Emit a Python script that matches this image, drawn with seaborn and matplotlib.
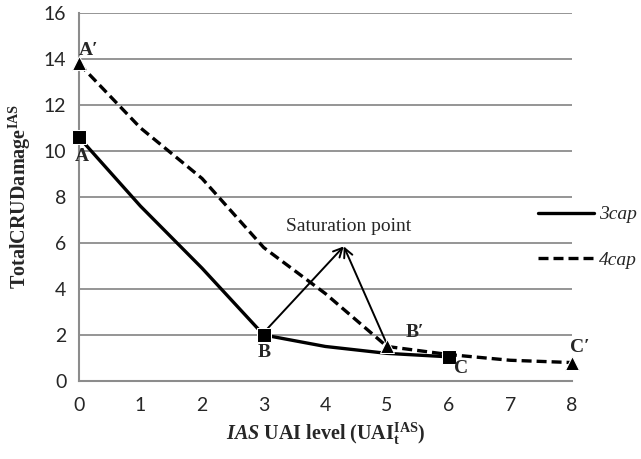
import matplotlib
matplotlib.use("Agg")
import matplotlib.pyplot as plt
import pandas as pd
import seaborn as sns
from matplotlib.lines import Line2D

# values
x_3cap = [0, 1, 2, 3, 4, 5, 6]
y_3cap = [10.6, 7.6, 4.9, 2.0, 1.5, 1.2, 1.05]
x_4cap = [0, 1, 2, 3, 4, 5, 6, 7, 8]
y_4cap = [13.8, 11.0, 8.8, 5.8, 3.8, 1.5, 1.15, 0.9, 0.8]
marked_3cap = [0, 3, 6]   # A, B, C
marked_4cap = [0, 5, 8]   # A', B', C'
x_ticks = [0, 1, 2, 3, 4, 5, 6, 7, 8]
y_ticks = [0, 2, 4, 6, 8, 10, 12, 14, 16]

point_labels = [("A\u2032", 0.0, 14.35, "left"), ("A", 0.05, 9.75, "center"),
                ("B", 3.0, 1.25, "center"), ("B\u2032", 5.45, 2.1, "center"),
                ("C", 6.2, 0.55, "center"), ("C\u2032", 8.13, 1.45, "center")]
saturation_tip = (4.3, 5.85)
saturation_from = [(3.0, 2.1), (5.0, 1.6)]

sns.set_style("white")
plt.rcParams["font.family"] = ["Lato", "DejaVu Sans"]
plt.rcParams["mathtext.fontset"] = "custom"
plt.rcParams["mathtext.rm"] = "Liberation Serif:bold"
plt.rcParams["mathtext.it"] = "Liberation Serif:bold:italic"
plt.rcParams["mathtext.bf"] = "Liberation Serif:bold"

GRID = "#8c8c8c"
serif = "Liberation Serif"

fig = plt.figure(figsize=(6.41, 4.59), dpi=100)
ax = fig.add_axes([0.123, 0.170, 0.769, 0.802])

df3 = pd.DataFrame({"x": x_3cap, "y": y_3cap})
df4 = pd.DataFrame({"x": x_4cap, "y": y_4cap})

sns.lineplot(data=df3, x="x", y="y", ax=ax, color="black", lw=2.4,
             marker="s", markersize=9.5, markevery=marked_3cap, zorder=4,
             clip_on=False)
sns.lineplot(data=df4, x="x", y="y", ax=ax, color="black", lw=2.4,
             linestyle=(0, (3.0, 1.5)), marker="^", markersize=10,
             markevery=marked_4cap, zorder=4, clip_on=False)

ax.set_xlim(0, 8)
ax.set_ylim(0, 16)
ax.set_xticks(x_ticks)
ax.set_yticks(y_ticks)
ax.yaxis.grid(True, color=GRID, lw=1.3)
ax.set_axisbelow(True)
for side in ["top", "right"]:
    ax.spines[side].set_visible(False)
for side in ["left", "bottom"]:
    ax.spines[side].set_color(GRID)
    ax.spines[side].set_linewidth(1.5)
ax.tick_params(axis="x", direction="inout", length=9, width=1.2, color=GRID,
               labelsize=14, pad=7)
ax.tick_params(axis="y", direction="out", length=5, width=1.2, color=GRID,
               labelsize=14, pad=4)

ax.set_xlabel(r"$\it{IAS}$ UAI level (UAI$_\mathrm{t}^\mathrm{IAS}$)",
              fontfamily=serif, fontweight="bold", fontsize=14.5, labelpad=5)
ax.set_ylabel(r"TotalCRUDamage$^\mathrm{IAS}$",
              fontfamily=serif, fontweight="bold", fontsize=14.5, labelpad=8)

for text, tx, ty, ha in point_labels:
    ax.text(tx, ty, text, ha=ha, va="center", fontfamily=serif,
            fontweight="bold", fontsize=14, zorder=5)

ax.text(4.38, 6.7, "Saturation point", ha="center", va="center",
        fontfamily=serif, fontsize=14)
for sx, sy in saturation_from:
    ax.annotate("", xy=saturation_tip, xytext=(sx, sy),
                arrowprops=dict(arrowstyle="->", color="black", lw=1.4,
                                mutation_scale=16, shrinkA=0, shrinkB=0))

handles = [Line2D([], [], color="black", lw=2.4),
           Line2D([], [], color="black", lw=2.4, linestyle=(0, (3.0, 1.5)))]
ax.legend(handles, ["3cap", "4cap"], loc="center left",
          bbox_to_anchor=(0.915, 0.39), frameon=False, handlelength=2.9,
          handletextpad=0.25, labelspacing=1.45, borderaxespad=0,
          prop={"family": serif, "style": "italic", "size": 14})

fig.savefig("out.png", dpi=100)
